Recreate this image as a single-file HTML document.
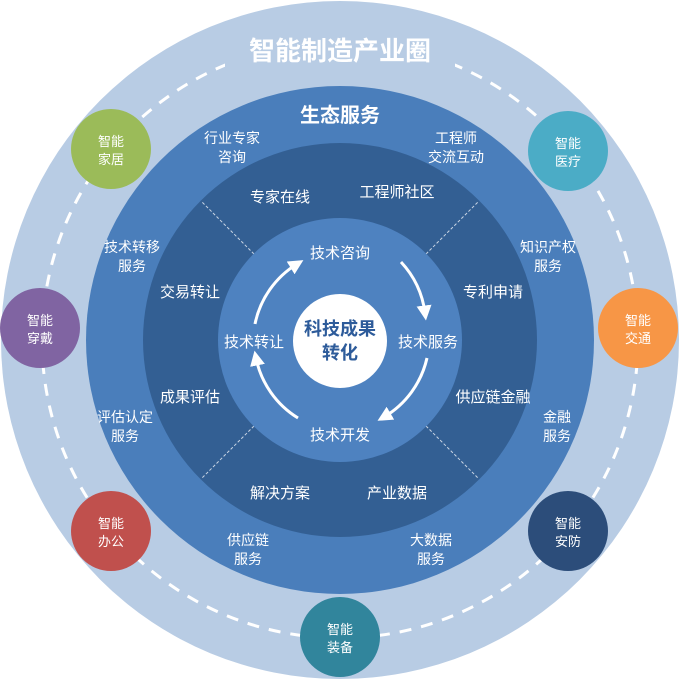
<!DOCTYPE html>
<html><head><meta charset="utf-8"><style>
html,body{margin:0;padding:0;background:#fff;}
svg text{font-family:"Liberation Sans","Noto Sans CJK SC",sans-serif;fill:#fff;text-anchor:middle;}
</style></head><body>
<svg width="680" height="679" viewBox="0 0 680 679" xmlns="http://www.w3.org/2000/svg">
<defs>
<marker id="ah" viewBox="0 0 10 10" refX="5" refY="5" markerWidth="5" markerHeight="5" orient="auto"><path d="M0,0 L10,5 L0,10 z" fill="#fff"/></marker>
</defs>
<circle cx="340" cy="340" r="339" fill="#b8cce4"/>
<circle cx="340" cy="340" r="298" fill="none" stroke="#fff" stroke-width="3" stroke-dasharray="12 10"/>
<rect x="225" y="28" width="230" height="46" fill="#b8cce4"/>
<circle cx="340" cy="340" r="254" fill="#4a7ebb"/>
<circle cx="340" cy="340" r="197" fill="#335f93"/>
<g stroke="#c8d4e4" stroke-width="1" stroke-dasharray="3 2">
<line x1="254" y1="254" x2="201" y2="201"/><line x1="426" y1="254" x2="479" y2="201"/>
<line x1="254" y1="426" x2="201" y2="479"/><line x1="426" y1="426" x2="479" y2="479"/>
</g>
<circle cx="340" cy="340" r="122" fill="#4e82c0"/>
<circle cx="340" cy="341" r="47" fill="#fff"/>
<g fill="none" stroke="#fff" stroke-width="3" marker-end="url(#ah)">
<path d="M401,262 A92,92 0 0 1 425,313"/>
<path d="M427,358 A92,92 0 0 1 384,417"/>
<path d="M298,418 A92,92 0 0 1 256,358"/>
<path d="M255,324 A92,92 0 0 1 297,264"/>
</g>
<text x="340" y="60" font-size="26" font-weight="bold">智能制造产业圈</text>
<text x="340" y="122" font-size="20" font-weight="bold">生态服务</text>
<g font-size="14">
<text x="232" y="143">行业专家</text><text x="232" y="162">咨询</text>
<text x="456" y="143">工程师</text><text x="456" y="162">交流互动</text>
<text x="132" y="252">技术转移</text><text x="132" y="271">服务</text>
<text x="548" y="252">知识产权</text><text x="548" y="271">服务</text>
<text x="125" y="422">评估认定</text><text x="125" y="441">服务</text>
<text x="557" y="422">金融</text><text x="557" y="441">服务</text>
<text x="248" y="545">供应链</text><text x="248" y="564">服务</text>
<text x="431" y="545">大数据</text><text x="431" y="564">服务</text>
</g>
<g font-size="15">
<text x="280" y="202">专家在线</text><text x="397" y="197">工程师社区</text>
<text x="190" y="297">交易转让</text><text x="493" y="297">专利申请</text>
<text x="190" y="402">成果评估</text><text x="493" y="402">供应链金融</text>
<text x="280" y="498">解决方案</text><text x="397" y="498">产业数据</text>
<text x="340" y="258">技术咨询</text>
<text x="254" y="347">技术转让</text><text x="428" y="347">技术服务</text>
<text x="340" y="440">技术开发</text>
</g>
<text x="340" y="335" font-size="18" font-weight="bold" style="fill:#2d5b9a">科技成果</text>
<text x="340" y="359" font-size="18" font-weight="bold" style="fill:#2d5b9a">转化</text>
<g font-size="13">
<circle cx="111" cy="149" r="40" fill="#9bbb59"/><text x="111" y="146">智能</text><text x="111" y="164">家居</text>
<circle cx="568" cy="151" r="40" fill="#4bacc6"/><text x="568" y="148">智能</text><text x="568" y="166">医疗</text>
<circle cx="40" cy="328" r="40" fill="#8064a2"/><text x="40" y="325">智能</text><text x="40" y="343">穿戴</text>
<circle cx="638" cy="328" r="40" fill="#f79646"/><text x="638" y="325">智能</text><text x="638" y="343">交通</text>
<circle cx="111" cy="531" r="40" fill="#c0504d"/><text x="111" y="528">智能</text><text x="111" y="546">办公</text>
<circle cx="568" cy="531" r="40" fill="#2c4d7a"/><text x="568" y="528">智能</text><text x="568" y="546">安防</text>
<circle cx="340" cy="637" r="40" fill="#31859c"/><text x="340" y="634">智能</text><text x="340" y="652">装备</text>
</g>
</svg>
</body></html>
